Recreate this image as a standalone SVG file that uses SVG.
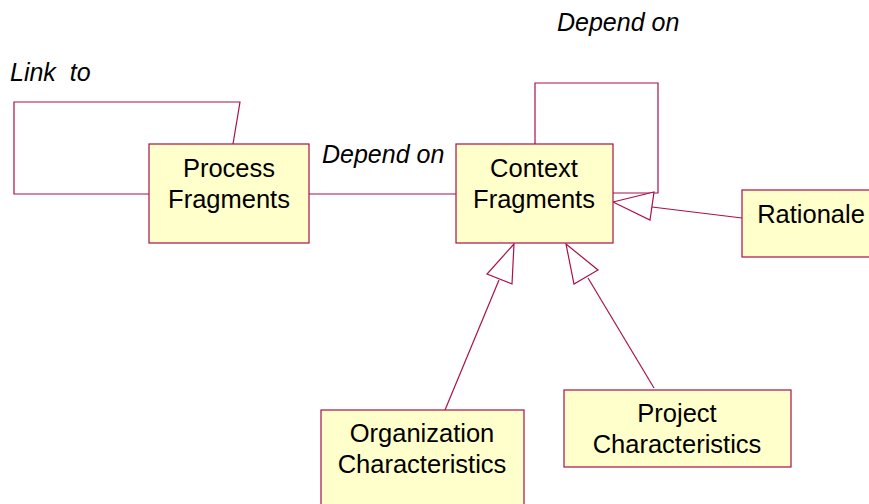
<svg xmlns="http://www.w3.org/2000/svg" width="869" height="504" viewBox="0 0 869 504">
<style>
.box{fill:#FFFFCC;stroke:#A8104C;stroke-width:1.2}
.t{font-family:"Liberation Sans",Arial,sans-serif;font-size:25.5px;fill:#000;text-anchor:middle}
.lbl{font-family:"Liberation Sans",Arial,sans-serif;font-size:25px;font-style:italic;fill:#000;white-space:pre}
.c{fill:none;stroke:#A8104C;stroke-width:1.2}
.tri{fill:#fff;stroke:#A8104C;stroke-width:1.2}
</style>
<rect width="869" height="504" fill="#fff"/>
<g id="connectors">
<path class="c" d="M149,194 L14,194 L14,102 L240,102 L233,144"/>
<path class="c" d="M309,194 L456,194"/>
<path class="c" d="M535,144 L535,83 L658,83 L658,193 L613,193"/>
<path class="c" d="M742,218 L652,207"/>
<polygon class="tri" points="613,202 654,192 650,220"/>
<path class="c" d="M445,410 L499,280"/>
<polygon class="tri" points="514,244 487,274 512,284"/>
<path class="c" d="M654,388 L588,278"/>
<polygon class="tri" points="566,244 598,270 574,284"/>
<text class="lbl" x="10" y="81" xml:space="preserve">Link  to</text>
<text class="lbl" x="322" y="163">Depend on</text>
<text class="lbl" x="557" y="31">Depend on</text>
</g>
<g id="process">
<rect class="box" x="149" y="144" width="160" height="99"/>
<text class="t" x="229" y="177">Process</text>
<text class="t" x="229" y="208">Fragments</text>
</g>
<g id="context">
<rect class="box" x="456" y="144" width="157" height="99"/>
<text class="t" x="534" y="177">Context</text>
<text class="t" x="534" y="208">Fragments</text>
</g>
<g id="rationale">
<rect class="box" x="742" y="190" width="140" height="67"/>
<text class="t" x="811" y="223">Rationale</text>
</g>
<g id="organization">
<rect class="box" x="321" y="410" width="203" height="100"/>
<text class="t" x="422" y="442">Organization</text>
<text class="t" x="422" y="473">Characteristics</text>
</g>
<g id="project">
<rect class="box" x="564" y="390" width="227" height="77"/>
<text class="t" x="677" y="422">Project</text>
<text class="t" x="677" y="453">Characteristics</text>
</g>
</svg>
